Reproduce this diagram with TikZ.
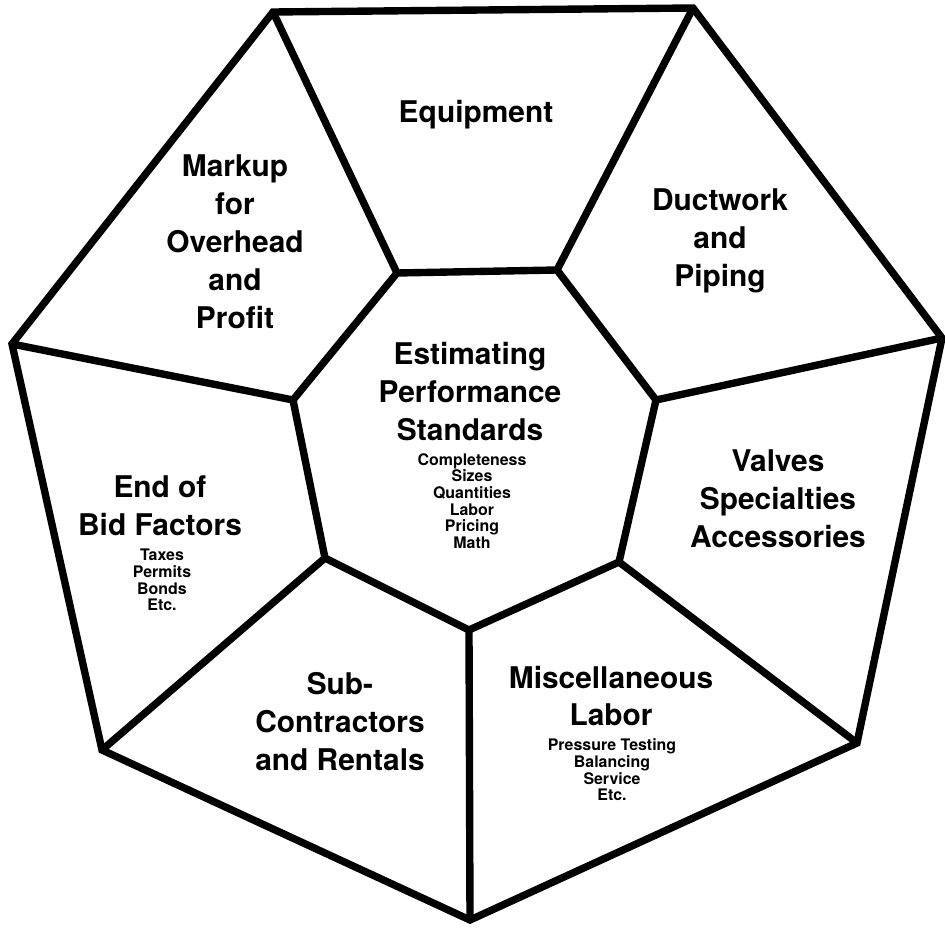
\documentclass[tikz,border=0pt]{standalone}
\usepackage{fontspec}
\setmainfont{TeX Gyre Heros}
\begin{document}
\begin{tikzpicture}[x=0.03cm,y=-0.03cm,
  edge/.style={line width=6.3pt,line join=miter,line cap=butt},
  big/.style={font=\fontsize{25.5}{32.4}\selectfont\bfseries,align=center,inner sep=0pt},
  small/.style={font=\fontsize{13.6}{14.2}\selectfont\bfseries,align=center,inner sep=0pt}]
\useasboundingbox (0,0) rectangle (945,928);
% outer vertices
\coordinate (o1) at (273,12);
\coordinate (o2) at (693,8);
\coordinate (o3) at (942,338);
\coordinate (o4) at (857,743);
\coordinate (o5) at (470,920);
\coordinate (o6) at (102,750);
\coordinate (o7) at (12,344);
% inner vertices
\coordinate (i1) at (397,273);
\coordinate (i2) at (557,270);
\coordinate (i3) at (656,400);
\coordinate (i4) at (619,562);
\coordinate (i5) at (469,630);
\coordinate (i6) at (325,558);
\coordinate (i7) at (293,400);
\draw[edge] (o1) -- (o2) -- (o3) -- (o4) -- (o5) -- (o6) -- (o7) -- cycle;
\draw[edge] (i1) -- (i2) -- (i3) -- (i4) -- (i5) -- (i6) -- (i7) -- cycle;
\draw[edge] (i1) -- (o1);
\draw[edge] (i2) -- (o2);
\draw[edge] (i3) -- (o3);
\draw[edge] (i4) -- (o4);
\draw[edge] (i5) -- (o5);
\draw[edge] (i6) -- (o6);
\draw[edge] (i7) -- (o7);
% texts
\node[big] (equip) at (476,115) {Equipment};
\node[big] (markup) at (235,242) {Markup\\for\\Overhead\\and\\Profit};
\node[big] (duct) at (720,241) {Ductwork\\and\\Piping};
\node[big] (est) at (470,392) {Estimating\\Performance\\Standards};
\node[small] (estsub) at (472,501) {Completeness\\Sizes\\Quantities\\Labor\\Pricing\\Math};
\node[big] (endbid) at (160,506) {End of\\Bid Factors};
\node[small] (endsub) at (162,580) {Taxes\\Permits\\Bonds\\Etc.};
\node[big] (valves) at (778,499) {Valves\\Specialties\\Accessories};
\node[big] (sub) at (340,722) {Sub-\\Contractors\\and Rentals};
\node[big] (misc) at (611,696) {Miscellaneous\\Labor};
\node[small] (miscsub) at (612,770) {Pressure Testing\\Balancing\\Service\\Etc.};
\end{tikzpicture}
\end{document}
